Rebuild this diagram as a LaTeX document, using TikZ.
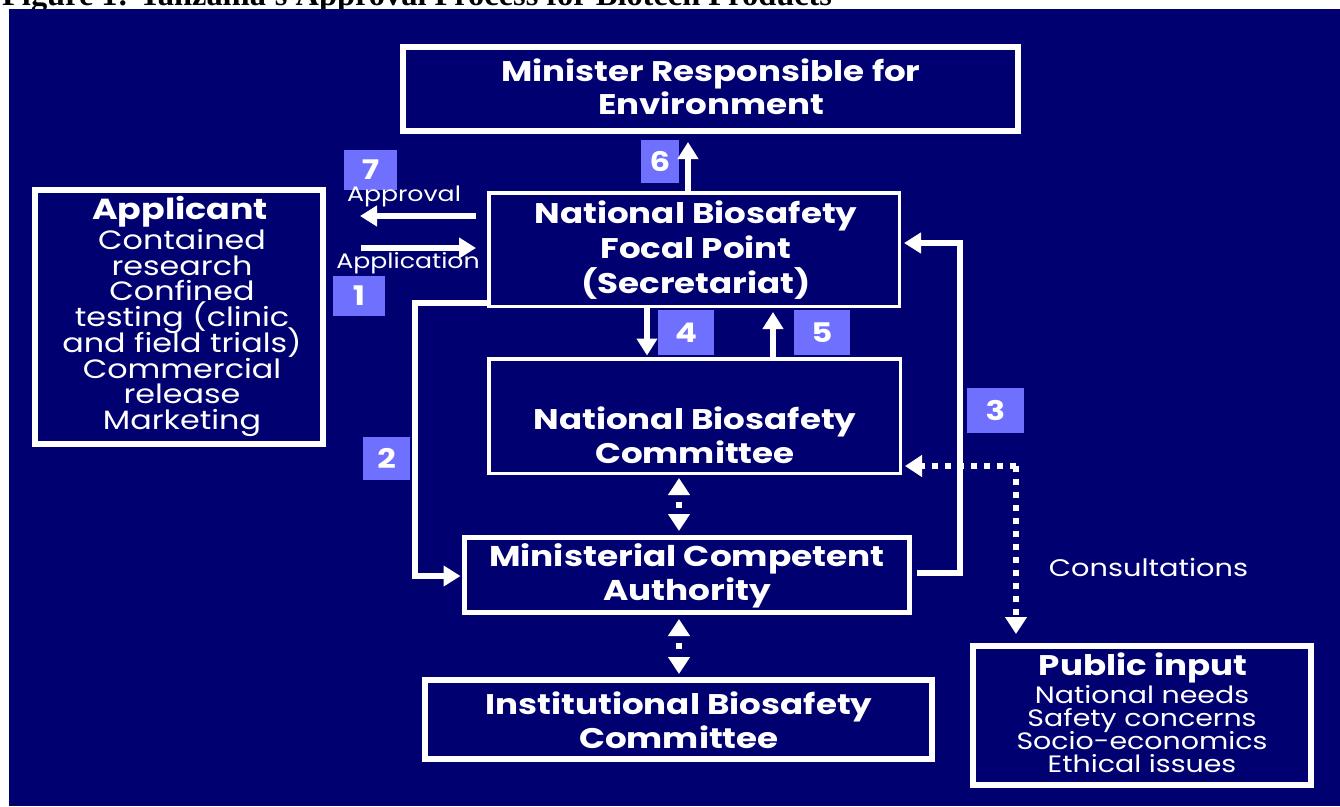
\documentclass[tikz,border=0pt]{standalone}
\usepackage{fontspec}
\setmainfont{Poppins}[FakeStretch=1.2]
\newfontfamily\capfont{Liberation Serif}
\usetikzlibrary{arrows.meta,calc}
\definecolor{navy}{RGB}{0,0,112}
\definecolor{tagblue}{RGB}{112,112,255}
\newcommand\tightlines{\lineskiplimit=-60pt\relax}
\begin{document}
\begin{tikzpicture}[x=1pt,y=-1pt,
  panel/.style={draw=white, fill=navy, inner sep=0pt, line width=#1},
  panel/.default=6,
  title/.style={text=white, align=center, inner sep=0pt,
    font=\bfseries\fontsize{28.4}{35}\selectfont\tightlines},
  body/.style={text=white, align=center, inner sep=0pt,
    font=\fontsize{26.5}{25.7}\selectfont\tightlines},
  tag/.style={fill=tagblue, text=white, inner sep=0pt,
    font=\bfseries\fontsize{27}{27}\selectfont},
  flow/.style={draw=white, line width=5.5, -{Triangle[width=20,length=17]}},
  dotflow/.style={draw=white, line width=6, dash pattern=on 6pt off 7pt,
    -{Triangle[width=21,length=17]}},
  dualdot/.style={draw=white, line width=6, dash pattern=on 6pt off 17pt,
    dash phase=15pt, {Triangle[width=21,length=17]}-{Triangle[width=21,length=17]}},
  note/.style={text=white, inner sep=0pt, font=\fontsize{21}{21}\selectfont}]
\useasboundingbox (0,0) rectangle (1340,806);

% caption, mostly hidden behind the panel
\node[anchor=base west, inner sep=0pt, font=\capfont\bfseries\fontsize{32.4}{36}\selectfont]
  (caption) at (2,5.5) {Figure 1: Tanzania's Approval Process for Biotech Products};
\fill[navy] (9,9) rectangle (1340,806);

% boxes
\node[panel, minimum width=615, minimum height=84] (minister) at (710.5,89) {};
\node[panel=3.5, minimum width=410.5, minimum height=113.5] (nbfp) at (694,249.5) {};
\node[panel=3.5, minimum width=411.5, minimum height=114.5] (nbc) at (694.5,416) {};
\node[panel=5, minimum width=445, minimum height=75] (mca) at (687,575) {};
\node[panel, minimum width=507, minimum height=79] (ibc) at (678.5,719.5) {};
\node[panel, minimum width=288, minimum height=254] (appl) at (179,317) {};
\node[panel, minimum width=338, minimum height=139] (pub) at (1142,715.5) {};

% box texts
\node[title, font=\bfseries\fontsize{28.4}{33}\selectfont\tightlines] (ministert) at (711,87) {Minister Responsible for\\Environment};
\node[title] (nbfpt) at (696,250.5) {National Biosafety\\Focal Point\\(Secretariat)};
\node[title, font=\bfseries\fontsize{28.4}{34}\selectfont\tightlines] (nbct) at (695,435) {National Biosafety\\Committee};
\node[title, font=\bfseries\fontsize{28.6}{34}\selectfont\tightlines] (mcat) at (687,576) {Ministerial Competent\\Authority};
\node[title, font=\bfseries\fontsize{28.4}{34}\selectfont\tightlines] (ibct) at (679,720) {Institutional Biosafety\\Committee};
\node[title, font=\bfseries\fontsize{29}{30}\selectfont] (applt) at (180,212) {Applicant};
\node[body] (appli) at (182,333) {Contained\\research\\Confined\\testing (clinic\\and field trials)\\Commercial\\release\\Marketing};
\node[title] (pubt) at (1143,668) {Public input};
\node[body, font=\fontsize{23.7}{23}\selectfont\tightlines] (pubi) at (1142,729) {National needs\\Safety concerns\\Socio-economics\\Ethical issues};

% number tags
\node[tag, minimum width=53, minimum height=40] (t7) at (370.5,170) {7};
\node[tag, minimum width=38, minimum height=43] (t6) at (660,161.5) {6};
\node[tag, minimum width=52, minimum height=40] (t1) at (359,296) {1};
\node[tag, minimum width=47, minimum height=43] (t2) at (386.5,458.5) {2};
\node[tag, minimum width=57, minimum height=45] (t3) at (995.5,410.5) {3};
\node[tag, minimum width=56, minimum height=45] (t4) at (686,332.5) {4};
\node[tag, minimum width=56, minimum height=45] (t5) at (822,332.5) {5};

% guide coordinates
\coordinate (x4) at (647,0);
\coordinate (x5) at (773,0);
\coordinate (x6) at (688,0);
\coordinate (xd) at (679,0);
\coordinate (aprA) at (476,216);
\coordinate (aprB) at (360,216);
\coordinate (appA) at (361,248);
\coordinate (appB) at (476,248);
\coordinate (c2a) at (415,303);
\coordinate (c2b) at (415,576);
\coordinate (c3a) at (960,573);
\coordinate (c3b) at (960,243);
\coordinate (cons) at (1016,466);

% connectors
\draw[flow, shorten >=8pt] (nbfp.north -| x6) -- (minister.south -| x6);
\draw[flow] (aprA) -- (aprB);
\draw[flow] (appA) -- (appB);
\draw[flow, shorten >=1.5pt] (c2a -| nbfp.west) -- (c2a) -- (c2b) -- (c2b -| mca.west);
\draw[flow, line width=6, shorten <=5pt, shorten >=3pt] (c3a -| mca.east) -- (c3a) -- (c3b) -- (c3b -| nbfp.east);
\draw[flow, shorten >=1.5pt] (nbfp.south -| x4) -- (nbc.north -| x4);
\draw[flow, shorten >=4pt] (nbc.north -| x5) -- (nbfp.south -| x5);
\draw[dotflow, shorten >=3pt] (cons) -- (cons -| nbc.east);
\draw[dotflow, shorten >=9pt] (cons) -- (cons |- pub.north);
\draw[dualdot, shorten <=3pt, shorten >=4pt] (nbc.south -| xd) -- (mca.north -| xd);
\draw[dualdot, shorten <=4pt, shorten >=3pt] (mca.south -| xd) -- (ibc.north -| xd);

% arrow labels
\node[note] (aprl) at (404,196) {Approval};
\node[note] (appl-l) at (408,263) {Application};
\node[note, font=\fontsize{24}{24}\selectfont] (consl) at (1148.5,567) {Consultations};
\end{tikzpicture}
\end{document}
